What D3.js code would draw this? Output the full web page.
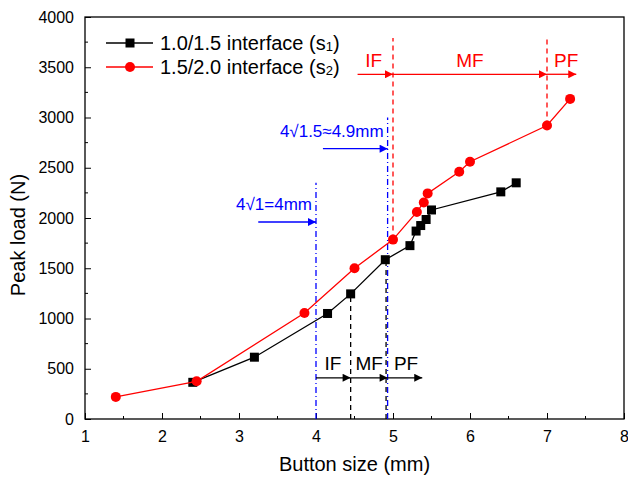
<!DOCTYPE html>
<html>
<head>
<meta charset="utf-8">
<script src="https://cdn.jsdelivr.net/npm/d3@7"></script>
<style>
  body { margin: 0; background: #fff; }
  text { font-family: "Liberation Sans", Arial, sans-serif; }
</style>
</head>
<body>
<div id="chart"></div>
<script>
// data
var s1Size = [2.4, 3.2, 4.15, 4.45, 4.9, 5.22, 5.3, 5.36, 5.43, 5.5, 6.4, 6.6];
var s1Load = [365, 615, 1050, 1245, 1585, 1725, 1870, 1925, 1985, 2080, 2260, 2350];
var s2Size = [1.4, 2.45, 3.85, 4.5, 5.0, 5.31, 5.4, 5.45, 5.86, 6.0, 7.0, 7.3];
var s2Load = [220, 375, 1055, 1500, 1785, 2060, 2155, 2245, 2460, 2560, 2920, 3185];
var xTicks = [1, 2, 3, 4, 5, 6, 7, 8];
var yTicks = [0, 500, 1000, 1500, 2000, 2500, 3000, 3500, 4000];

var svgWidth = 628;
var svgHeight = 478;
var margin = { top: 17, right: 4, bottom: 59, left: 85 };
var width = svgWidth - margin.left - margin.right;
var height = svgHeight - margin.top - margin.bottom;

var svg = d3.select("#chart")
    .append("svg")
    .attr("width", svgWidth)
    .attr("height", svgHeight);

var defs = svg.append("defs");
function marker(id, color) {
    defs.append("marker")
        .attr("id", id)
        .attr("viewBox", "0 0 10 10")
        .attr("refX", 10).attr("refY", 5)
        .attr("markerWidth", 12).attr("markerHeight", 8)
        .attr("markerUnits", "userSpaceOnUse")
        .attr("orient", "auto")
        .append("path")
        .attr("d", "M0,0 L10,5 L0,10 Z")
        .attr("fill", color);
}
marker("arrBlack", "#000");
marker("arrRed", "#ff0000");
marker("arrBlue", "#0000ff");

var chartGroup = svg.append("g")
    .attr("transform", `translate(${margin.left}, ${margin.top})`);

var x = d3.scaleLinear().domain([1, 8]).range([0, width]);
var y = d3.scaleLinear().domain([0, 4000]).range([height, 0]);

// axes, ticks pointing inward
var bottomAxis = d3.axisBottom(x).tickValues(xTicks).tickSize(-6).tickPadding(12).tickFormat(d3.format("d"));
var leftAxis = d3.axisLeft(y).tickValues(yTicks).tickSize(-6).tickPadding(11).tickFormat(d3.format("d"));

var gx = chartGroup.append("g")
    .attr("transform", `translate(0, ${height})`)
    .call(bottomAxis);
var gy = chartGroup.append("g").call(leftAxis);

// minor ticks
var xMinor = d3.range(1.5, 8, 1);
var yMinor = d3.range(250, 4000, 500);
chartGroup.selectAll(".xminor").data(xMinor).enter().append("line")
    .attr("x1", d => x(d)).attr("x2", d => x(d))
    .attr("y1", height).attr("y2", height - 3)
    .attr("stroke", "#000");
chartGroup.selectAll(".yminor").data(yMinor).enter().append("line")
    .attr("x1", 0).attr("x2", 3)
    .attr("y1", d => y(d)).attr("y2", d => y(d))
    .attr("stroke", "#000");

[gx, gy].forEach(function(g) {
    g.selectAll("text").attr("font-size", 16).attr("fill", "#000");
    g.select(".domain").remove();
    g.selectAll("line").attr("stroke", "#000");
});

// frame
chartGroup.append("rect")
    .attr("width", width).attr("height", height)
    .attr("fill", "none").attr("stroke", "#000").attr("stroke-width", 1.3);

// annotation lines
function vline(xv, y0, y1, color, dash) {
    chartGroup.append("line")
        .attr("x1", x(xv)).attr("x2", x(xv))
        .attr("y1", y(y0)).attr("y2", y(y1))
        .attr("stroke", color).attr("stroke-width", 1.3)
        .attr("stroke-dasharray", dash);
}
function arrow(x0, x1, yv, color, id) {
    chartGroup.append("line")
        .attr("x1", x(x0)).attr("x2", x(x1))
        .attr("y1", y(yv)).attr("y2", y(yv))
        .attr("stroke", color).attr("stroke-width", 1.3)
        .attr("marker-end", `url(#${id})`);
}
function label(xv, yv, txt, color) {
    chartGroup.append("text")
        .attr("x", x(xv)).attr("y", y(yv))
        .attr("text-anchor", "middle")
        .attr("font-size", 19).attr("fill", color)
        .text(txt);
}

// blue dash-dot
vline(4.0, 0, 2350, "#0000ff", "6,3,1,3");
vline(4.93, 0, 3000, "#0000ff", "6,3,1,3");
arrow(3.25, 4.0, 1960, "#0000ff", "arrBlue");
arrow(4.09, 4.93, 2690, "#0000ff", "arrBlue");
chartGroup.append("text")
    .attr("x", x(4.0) - 4).attr("y", y(2075))
    .attr("text-anchor", "end").attr("font-size", 17).attr("fill", "#0000ff")
    .text("4\u221A1=4mm");
chartGroup.append("text")
    .attr("x", x(4.93) - 4).attr("y", y(2810))
    .attr("text-anchor", "end").attr("font-size", 17).attr("fill", "#0000ff")
    .text("4\u221A1.5\u22484.9mm");

// red dashed
vline(5.0, s2Load[4], 3790, "#ff0000", "5,4");
vline(7.0, s2Load[10], 3790, "#ff0000", "5,4");
arrow(4.54, 5.0, 3430, "#ff0000", "arrRed");
arrow(5.0, 7.0, 3430, "#ff0000", "arrRed");
arrow(7.0, 7.38, 3430, "#ff0000", "arrRed");
label(4.75, 3505, "IF", "#ff0000");
label(6.0, 3505, "MF", "#ff0000");
label(7.25, 3505, "PF", "#ff0000");

// black dashed
vline(4.45, 0, s1Load[3], "#000", "5,4");
vline(4.91, 0, s1Load[4], "#000", "5,4");
arrow(4.0, 4.45, 410, "#000", "arrBlack");
arrow(4.45, 4.93, 410, "#000", "arrBlack");
arrow(4.93, 5.38, 410, "#000", "arrBlack");
label(4.22, 488, "IF", "#000");
label(4.69, 488, "MF", "#000");
label(5.17, 488, "PF", "#000");

// series
var s1 = s1Size.map((d, i) => ({ x: d, y: s1Load[i] }));
var s2 = s2Size.map((d, i) => ({ x: d, y: s2Load[i] }));
var line = d3.line().x(d => x(d.x)).y(d => y(d.y));

chartGroup.append("path").datum(s1)
    .attr("d", line).attr("fill", "none").attr("stroke", "#000").attr("stroke-width", 1.3);
chartGroup.selectAll(".sq").data(s1).enter().append("rect")
    .attr("x", d => x(d.x) - 4.5).attr("y", d => y(d.y) - 4.5)
    .attr("width", 9).attr("height", 9).attr("fill", "#000");

chartGroup.append("path").datum(s2)
    .attr("d", line).attr("fill", "none").attr("stroke", "#ff0000").attr("stroke-width", 1.3);
chartGroup.selectAll(".dot").data(s2).enter().append("circle")
    .attr("cx", d => x(d.x)).attr("cy", d => y(d.y))
    .attr("r", 5).attr("fill", "#ff0000");

// legend
var legend = svg.append("g");
var legendItems = [
    { name: "1.0/1.5 interface (s", sub: "1", color: "#000", shape: "square" },
    { name: "1.5/2.0 interface (s", sub: "2", color: "#ff0000", shape: "circle" }
];
legendItems.forEach(function(item, i) {
    var ly = 43 + i * 24;
    legend.append("line")
        .attr("x1", 106).attr("x2", 153).attr("y1", ly).attr("y2", ly)
        .attr("stroke", item.color).attr("stroke-width", 1.3);
    if (item.shape === "square") {
        legend.append("rect").attr("x", 125.5).attr("y", ly - 4.5)
            .attr("width", 9).attr("height", 9).attr("fill", item.color);
    } else {
        legend.append("circle").attr("cx", 130).attr("cy", ly).attr("r", 5).attr("fill", item.color);
    }
    var t = legend.append("text")
        .attr("x", 160).attr("y", ly + 7)
        .attr("font-size", 20).attr("fill", "#000");
    t.append("tspan").text(item.name);
    t.append("tspan").attr("font-size", 13).attr("dy", 1).text(item.sub);
    t.append("tspan").attr("dy", -1).text(")");
});

// axis labels
svg.append("text")
    .attr("x", margin.left + width / 2).attr("y", 471)
    .attr("text-anchor", "middle").attr("font-size", 20)
    .text("Button size (mm)");
svg.append("text")
    .attr("transform", `translate(25, 235) rotate(-90)`)
    .attr("text-anchor", "middle").attr("font-size", 20)
    .text("Peak load (N)");
</script>
</body>
</html>
